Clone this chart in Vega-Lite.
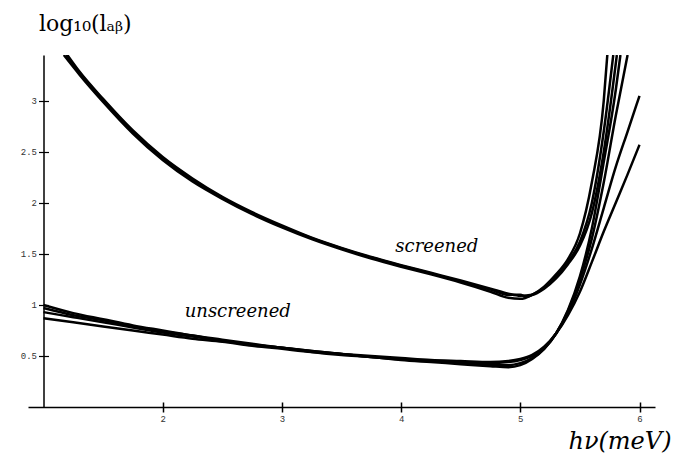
{
  "$schema": "https://vega.github.io/schema/vega-lite/v6.json",
  "autosize": "none",
  "width": 627,
  "height": 352,
  "padding": {"left": 28, "top": 55, "right": 18, "bottom": 56},
  "background": "white",
  "config": {"view": {"stroke": null}},
  "datasets": {
    "curves": [
      {"c":"S1","x":1.17,"y":3.45},{"c":"S1","x":1.3,"y":3.26},{"c":"S1","x":1.5,"y":2.99},{"c":"S1","x":1.75,"y":2.68},{"c":"S1","x":2.0,"y":2.42},{"c":"S1","x":2.25,"y":2.21},{"c":"S1","x":2.5,"y":2.04},{"c":"S1","x":2.75,"y":1.89},{"c":"S1","x":3.0,"y":1.76},{"c":"S1","x":3.25,"y":1.645},{"c":"S1","x":3.5,"y":1.545},{"c":"S1","x":3.75,"y":1.455},{"c":"S1","x":4.0,"y":1.375},{"c":"S1","x":4.25,"y":1.3},{"c":"S1","x":4.5,"y":1.22},{"c":"S1","x":4.75,"y":1.13},{"c":"S1","x":4.9,"y":1.07},{"c":"S1","x":5.0,"y":1.06},{"c":"S1","x":5.1,"y":1.1},{"c":"S1","x":5.2,"y":1.18},{"c":"S1","x":5.3,"y":1.3},{"c":"S1","x":5.4,"y":1.45},{"c":"S1","x":5.5,"y":1.7},{"c":"S1","x":5.6,"y":2.2},{"c":"S1","x":5.7,"y":3.0},{"c":"S1","x":5.73,"y":3.45},
      {"c":"S2","x":1.19,"y":3.45},{"c":"S2","x":1.3,"y":3.28},{"c":"S2","x":1.5,"y":3.01},{"c":"S2","x":1.75,"y":2.7},{"c":"S2","x":2.0,"y":2.44},{"c":"S2","x":2.25,"y":2.23},{"c":"S2","x":2.5,"y":2.05},{"c":"S2","x":2.75,"y":1.9},{"c":"S2","x":3.0,"y":1.77},{"c":"S2","x":3.25,"y":1.655},{"c":"S2","x":3.5,"y":1.555},{"c":"S2","x":3.75,"y":1.465},{"c":"S2","x":4.0,"y":1.385},{"c":"S2","x":4.25,"y":1.31},{"c":"S2","x":4.5,"y":1.23},{"c":"S2","x":4.75,"y":1.15},{"c":"S2","x":4.9,"y":1.1},{"c":"S2","x":5.0,"y":1.1},{"c":"S2","x":5.05,"y":1.08},{"c":"S2","x":5.1,"y":1.1},{"c":"S2","x":5.2,"y":1.17},{"c":"S2","x":5.3,"y":1.28},{"c":"S2","x":5.4,"y":1.42},{"c":"S2","x":5.5,"y":1.62},{"c":"S2","x":5.6,"y":2.0},{"c":"S2","x":5.7,"y":2.7},{"c":"S2","x":5.78,"y":3.45},
      {"c":"S3","x":1.2,"y":3.45},{"c":"S3","x":1.3,"y":3.29},{"c":"S3","x":1.5,"y":3.02},{"c":"S3","x":1.75,"y":2.71},{"c":"S3","x":2.0,"y":2.45},{"c":"S3","x":2.25,"y":2.24},{"c":"S3","x":2.5,"y":2.06},{"c":"S3","x":2.75,"y":1.91},{"c":"S3","x":3.0,"y":1.78},{"c":"S3","x":3.25,"y":1.66},{"c":"S3","x":3.5,"y":1.56},{"c":"S3","x":3.75,"y":1.47},{"c":"S3","x":4.0,"y":1.39},{"c":"S3","x":4.25,"y":1.315},{"c":"S3","x":4.5,"y":1.24},{"c":"S3","x":4.75,"y":1.16},{"c":"S3","x":4.9,"y":1.11},{"c":"S3","x":5.0,"y":1.09},{"c":"S3","x":5.1,"y":1.1},{"c":"S3","x":5.2,"y":1.16},{"c":"S3","x":5.3,"y":1.26},{"c":"S3","x":5.4,"y":1.4},{"c":"S3","x":5.5,"y":1.58},{"c":"S3","x":5.6,"y":1.9},{"c":"S3","x":5.7,"y":2.5},{"c":"S3","x":5.81,"y":3.45},
      {"c":"U1","x":1.0,"y":1.0},{"c":"U1","x":1.25,"y":0.92},{"c":"U1","x":1.5,"y":0.86},{"c":"U1","x":1.75,"y":0.8},{"c":"U1","x":2.0,"y":0.75},{"c":"U1","x":2.25,"y":0.7},{"c":"U1","x":2.5,"y":0.66},{"c":"U1","x":2.75,"y":0.62},{"c":"U1","x":3.0,"y":0.58},{"c":"U1","x":3.25,"y":0.55},{"c":"U1","x":3.5,"y":0.52},{"c":"U1","x":3.75,"y":0.49},{"c":"U1","x":4.0,"y":0.47},{"c":"U1","x":4.25,"y":0.45},{"c":"U1","x":4.5,"y":0.43},{"c":"U1","x":4.75,"y":0.41},{"c":"U1","x":4.9,"y":0.41},{"c":"U1","x":5.0,"y":0.43},{"c":"U1","x":5.1,"y":0.48},{"c":"U1","x":5.2,"y":0.57},{"c":"U1","x":5.3,"y":0.72},{"c":"U1","x":5.4,"y":0.95},{"c":"U1","x":5.5,"y":1.28},{"c":"U1","x":5.6,"y":1.75},{"c":"U1","x":5.7,"y":2.4},{"c":"U1","x":5.8,"y":3.1},{"c":"U1","x":5.84,"y":3.45},
      {"c":"U2","x":1.0,"y":0.97},{"c":"U2","x":1.25,"y":0.9},{"c":"U2","x":1.5,"y":0.85},{"c":"U2","x":1.75,"y":0.79},{"c":"U2","x":2.0,"y":0.74},{"c":"U2","x":2.25,"y":0.7},{"c":"U2","x":2.5,"y":0.65},{"c":"U2","x":2.75,"y":0.61},{"c":"U2","x":3.0,"y":0.58},{"c":"U2","x":3.25,"y":0.54},{"c":"U2","x":3.5,"y":0.51},{"c":"U2","x":3.75,"y":0.49},{"c":"U2","x":4.0,"y":0.46},{"c":"U2","x":4.25,"y":0.44},{"c":"U2","x":4.5,"y":0.42},{"c":"U2","x":4.75,"y":0.4},{"c":"U2","x":4.9,"y":0.39},{"c":"U2","x":5.0,"y":0.41},{"c":"U2","x":5.1,"y":0.47},{"c":"U2","x":5.2,"y":0.57},{"c":"U2","x":5.3,"y":0.72},{"c":"U2","x":5.4,"y":0.94},{"c":"U2","x":5.5,"y":1.25},{"c":"U2","x":5.6,"y":1.65},{"c":"U2","x":5.7,"y":2.2},{"c":"U2","x":5.8,"y":2.85},{"c":"U2","x":5.9,"y":3.45},
      {"c":"U3","x":1.0,"y":0.93},{"c":"U3","x":1.25,"y":0.88},{"c":"U3","x":1.5,"y":0.83},{"c":"U3","x":1.75,"y":0.78},{"c":"U3","x":2.0,"y":0.73},{"c":"U3","x":2.25,"y":0.69},{"c":"U3","x":2.5,"y":0.65},{"c":"U3","x":2.75,"y":0.61},{"c":"U3","x":3.0,"y":0.58},{"c":"U3","x":3.25,"y":0.55},{"c":"U3","x":3.5,"y":0.52},{"c":"U3","x":3.75,"y":0.49},{"c":"U3","x":4.0,"y":0.47},{"c":"U3","x":4.25,"y":0.45},{"c":"U3","x":4.5,"y":0.44},{"c":"U3","x":4.75,"y":0.43},{"c":"U3","x":4.9,"y":0.44},{"c":"U3","x":5.0,"y":0.46},{"c":"U3","x":5.1,"y":0.5},{"c":"U3","x":5.2,"y":0.58},{"c":"U3","x":5.3,"y":0.72},{"c":"U3","x":5.4,"y":0.92},{"c":"U3","x":5.5,"y":1.2},{"c":"U3","x":5.6,"y":1.55},{"c":"U3","x":5.7,"y":1.95},{"c":"U3","x":5.8,"y":2.35},{"c":"U3","x":5.9,"y":2.7},{"c":"U3","x":6.0,"y":3.05},
      {"c":"U4","x":1.0,"y":0.87},{"c":"U4","x":1.25,"y":0.83},{"c":"U4","x":1.5,"y":0.79},{"c":"U4","x":1.75,"y":0.75},{"c":"U4","x":2.0,"y":0.71},{"c":"U4","x":2.25,"y":0.67},{"c":"U4","x":2.5,"y":0.64},{"c":"U4","x":2.75,"y":0.6},{"c":"U4","x":3.0,"y":0.57},{"c":"U4","x":3.25,"y":0.54},{"c":"U4","x":3.5,"y":0.52},{"c":"U4","x":3.75,"y":0.5},{"c":"U4","x":4.0,"y":0.48},{"c":"U4","x":4.25,"y":0.46},{"c":"U4","x":4.5,"y":0.45},{"c":"U4","x":4.75,"y":0.44},{"c":"U4","x":4.9,"y":0.45},{"c":"U4","x":5.0,"y":0.47},{"c":"U4","x":5.1,"y":0.51},{"c":"U4","x":5.2,"y":0.59},{"c":"U4","x":5.3,"y":0.72},{"c":"U4","x":5.4,"y":0.9},{"c":"U4","x":5.5,"y":1.13},{"c":"U4","x":5.6,"y":1.42},{"c":"U4","x":5.7,"y":1.72},{"c":"U4","x":5.8,"y":2.0},{"c":"U4","x":5.9,"y":2.28},{"c":"U4","x":6.0,"y":2.57}
    ],
    "labels": [
      {"x": 4.3, "y": 1.57, "t": "screened"},
      {"x": 2.63, "y": 0.93, "t": "unscreened"}
    ]
  },
  "resolve": {"axis": {"x": "independent", "y": "independent"}},
  "layer": [
    {
      "data": {"name": "curves"},
      "mark": {"type": "line", "interpolate": "monotone", "color": "black", "strokeWidth": 2.5, "clip": true},
      "encoding": {
        "x": {
          "field": "x", "type": "quantitative",
          "scale": {"domain": [0.87, 6.13], "nice": false, "zero": false},
          "axis": {
            "orient": "bottom", "values": [2, 3, 4, 5, 6], "format": "~g",
            "grid": false, "domainColor": "black", "domainWidth": 1.5,
            "tickColor": "black", "tickWidth": 1.5, "tickSize": 5,
            "labelFont": "Liberation Mono", "labelFontSize": 9, "labelColor": "#333", "labelPadding": 2,
            "title": "hν(meV)", "titleFont": "DejaVu Serif", "titleFontStyle": "italic", "titleFontWeight": "normal",
            "titleFontSize": 24, "titleColor": "black", "titleAlign": "right", "titleAnchor": null,
            "titleX": 643, "titleY": 41, "titleBaseline": "alphabetic"
          }
        },
        "y": {
          "field": "y", "type": "quantitative",
          "scale": {"domain": [0, 3.45], "nice": false, "zero": false},
          "axis": {
            "orient": "left", "offset": -15.5, "values": [0.5, 1, 1.5, 2, 2.5, 3], "format": "~g",
            "grid": false, "domainColor": "black", "domainWidth": 1.5,
            "tickColor": "black", "tickWidth": 1.2, "tickSize": 5,
            "labelFont": "Liberation Mono", "labelFontSize": 9, "labelColor": "#333", "labelPadding": 2,
            "title": "log₁₀(lₐᵦ)", "titleFont": "DejaVu Serif", "titleFontWeight": "normal",
            "titleFontSize": 22, "titleColor": "black", "titleAngle": 0, "titleAlign": "left", "titleAnchor": null,
            "titleX": -5, "titleY": -25, "titleBaseline": "alphabetic"
          }
        },
        "detail": {"field": "c", "type": "nominal"}
      }
    },
    {
      "data": {"name": "labels"},
      "mark": {"type": "text", "font": "DejaVu Serif", "fontStyle": "italic", "fontSize": 18, "color": "black"},
      "encoding": {
        "x": {
          "field": "x", "type": "quantitative",
          "scale": {"domain": [0.87, 6.13], "nice": false, "zero": false},
          "axis": {"orient": "top", "offset": -352, "values": [2, 3, 4, 5, 6], "domain": false, "labels": false, "grid": false,
                   "tickColor": "black", "tickWidth": 1.5, "tickSize": 5, "title": null}
        },
        "y": {
          "field": "y", "type": "quantitative",
          "scale": {"domain": [0, 3.45], "nice": false, "zero": false},
          "axis": {"orient": "right", "offset": -611.5, "values": [0.5, 1, 1.5, 2, 2.5, 3], "domain": false, "labels": false, "grid": false,
                   "tickColor": "black", "tickWidth": 1.2, "tickSize": 5, "title": null}
        },
        "text": {"field": "t", "type": "nominal"}
      }
    }
  ]
}
